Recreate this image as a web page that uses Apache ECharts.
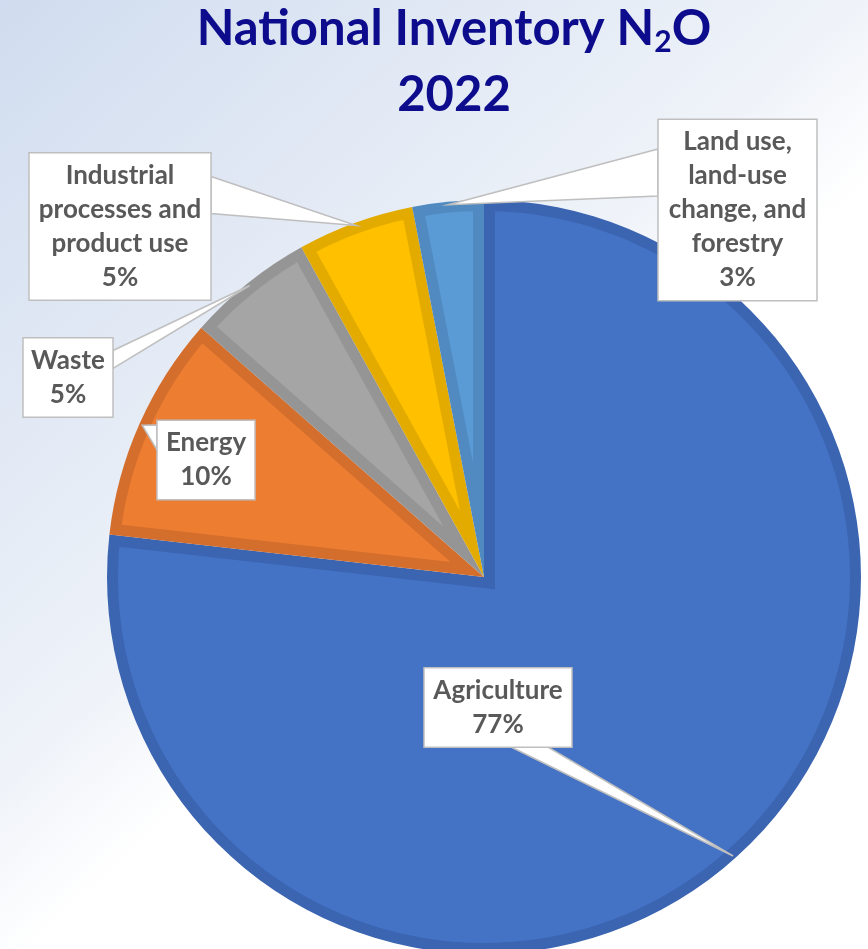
<!DOCTYPE html>
<html><head><meta charset="utf-8">
<script src="https://cdn.jsdelivr.net/npm/echarts@6/dist/echarts.min.js"></script>
<style>html,body{margin:0;padding:0;background:#fff;} #c{width:868px;height:949px;}</style>
</head><body><div id="c"></div>
<script>
// ---- data ----
const categories = ['Agriculture', 'Energy', 'Waste', 'Industrial processes and product use', 'Land use, land-use change, and forestry'];
const labelTexts = ['Agriculture', 'Energy', 'Waste', 'Industrial\nprocesses and\nproduct use', 'Land use,\nland-use\nchange, and\nforestry'];
const values = [76.8, 9.7, 5.45, 5.0, 3.05];
const titleMain = 'National Inventory N';
const titleSub = '2';
const titleEnd = 'O';
const titleYear = '2022';

// ---- styles / layout ----
const fillColors = ['#4472C4', '#ED7D31', '#A5A5A5', '#FFC000', '#5B9BD5'];
const edgeColors = ['#3B64B1', '#D46E2C', '#959595', '#E3AB00', '#518AC0'];
const CENTER = [484, 577], R = 377, BAND = 11;
const LINE_H = 34, PAD_V = 5;
const labelBoxes = [
  {cx: 498, cy: 707.5, w: 148, side: 'bottom', a: 86, b: 123},
  {cx: 206, cy: 460, w: 98, side: 'left', a: 4, b: 29},
  {cx: 68, cy: 377.5, w: 90, side: 'right', a: 12, b: 30},
  {cx: 120, cy: 226.5, w: 182, side: 'right', a: 23, b: 60},
  {cx: 737.5, cy: 210, w: 159, side: 'left', a: 29, b: 76}
];
function boxHeight(i) { return (labelTexts[i].split('\n').length + 1) * LINE_H + 2 * PAD_V; }

const total = values.reduce((s, v) => s + v, 0);
const spans = [];
let acc = 0;
values.forEach(v => { const s = acc / total * 100; acc += v; spans.push([s, acc / total * 100]); });

function renderSlice(params, api) {
  const i = params.dataIndex;
  const s = api.value(0), e = api.value(1);
  const span = (e - s) / 100 * 2 * Math.PI;
  const mid = (s + e) / 2;
  const apexR = BAND / Math.sin(span / 2);
  const rIn = R - BAND;
  const dPct = Math.asin(BAND / rIn) / (2 * Math.PI) * 100;
  const pts = [api.coord([apexR, mid])];
  const a0 = s + dPct, a1 = e - dPct;
  const n = Math.max(6, Math.ceil((a1 - a0) * 3));
  for (let k = 0; k <= n; k++) pts.push(api.coord([rIn, a0 + (a1 - a0) * k / n]));
  const children = [{type: 'polygon', shape: {points: pts}, style: {fill: fillColors[i]}, z2: 1}];
  const tip = api.coord([R - 3, mid]);
  const b = labelBoxes[i], h = boxHeight(i);
  const left = b.cx - b.w / 2, top = b.cy - h / 2;
  let p1, p2;
  if (b.side === 'right') { p1 = [left + b.w, top + b.a]; p2 = [left + b.w, top + b.b]; }
  else if (b.side === 'left') { p1 = [left, top + b.a]; p2 = [left, top + b.b]; }
  else { p1 = [left + b.a, top + h]; p2 = [left + b.b, top + h]; }
  children.push({type: 'polygon', shape: {points: [p1, tip, p2]},
    style: {fill: '#ffffff', stroke: '#BFBFBF', lineWidth: 1.5}, z2: 10});
  return {type: 'group', children};
}

const chart = echarts.init(document.getElementById('c'), null, {renderer: 'canvas'});
const titleColor = '#0C0C8C';
const option = {
  backgroundColor: {type: 'linear', x: 0, y: 0, x2: 1, y2: 1, colorStops: [
    {offset: 0, color: '#D0DCEF'}, {offset: 0.45, color: '#EFF3F9'}, {offset: 0.56, color: '#FFFFFF'}, {offset: 1, color: '#FFFFFF'}]},
  animation: false,
  title: {
    text: '{m|' + titleMain + '}{s|' + titleSub + '}{m|' + titleEnd + '}\n{m|' + titleYear + '}',
    left: 454, top: -4, textAlign: 'center', padding: 0,
    textStyle: {
      rich: {
        m: {fontFamily: 'Lato', fontWeight: 'bold', fontSize: 49, color: titleColor, lineHeight: 66},
        s: {fontFamily: 'Lato', fontWeight: 'bold', fontSize: 30, color: titleColor, lineHeight: 30, padding: [26, 0, 0, 0]}
      }
    }
  },
  polar: {center: CENTER, radius: R},
  angleAxis: {type: 'value', min: 0, max: 100, startAngle: 90, clockwise: true, show: false},
  radiusAxis: {type: 'value', min: 0, max: R, show: false},
  series: [
    {
      type: 'pie', z: 1, silent: true, center: CENTER, radius: R, startAngle: 90, clockwise: true,
      label: {show: false}, labelLine: {show: false},
      data: categories.map((c, i) => ({name: c, value: values[i], itemStyle: {color: edgeColors[i], borderWidth: 0}}))
    },
    {
      type: 'custom', z: 2, silent: true, coordinateSystem: 'polar',
      renderItem: renderSlice,
      data: spans
    },
    {
      type: 'pie', z: 3, silent: true, center: CENTER, radius: R, startAngle: 90, clockwise: true,
      avoidLabelOverlap: false,
      itemStyle: {color: 'rgba(0,0,0,0)', borderWidth: 0},
      labelLine: {show: false},
      label: {
        show: true, position: 'outside',
        formatter: p => labelTexts[p.dataIndex] + '\n' + Math.round(p.percent) + '%',
        fontFamily: 'Lato', fontWeight: 'bold', fontSize: 26, color: '#595959', lineHeight: LINE_H,
        backgroundColor: '#ffffff', borderColor: '#BFBFBF', borderWidth: 1.5, padding: [PAD_V, 0],
        align: 'center'
      },
      labelLayout: p => ({x: labelBoxes[p.dataIndex].cx, y: labelBoxes[p.dataIndex].cy, align: 'center', verticalAlign: 'middle'}),
      data: categories.map((c, i) => ({name: c, value: values[i], label: {width: labelBoxes[i].w - 1.5}}))
    }
  ]
};
chart.setOption(option);
</script></body></html>
